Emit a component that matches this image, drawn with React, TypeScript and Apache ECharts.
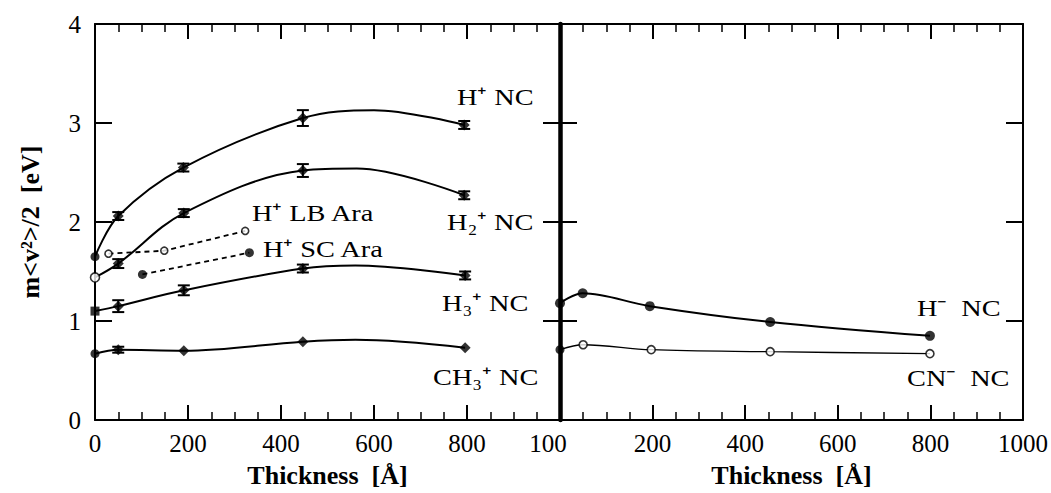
import React, { useEffect, useRef } from "react";
import * as echarts from "echarts";

// ---- data (Thickness [Å], m<v²>/2 [eV]) ----
const hpNcPoints = [[0, 1.65], [50, 2.06], [190, 2.55], [447, 3.05], [794, 2.98]];
const hpNcCurve = [[0, 1.65], [50, 2.06], [190, 2.55], [447, 3.05], [600, 3.13], [794, 2.98]];
const hpNcErr = [[50, 2.06, 0.04], [190, 2.55, 0.04], [447, 3.05, 0.08], [794, 2.98, 0.04]];

const h2NcPoints = [[0, 1.44], [50, 1.58], [191, 2.09], [447, 2.52], [794, 2.27]];
const h2NcCurve = [[0, 1.44], [50, 1.58], [191, 2.09], [447, 2.52], [563, 2.54], [794, 2.27]];
const h2NcErr = [[50, 1.58, 0.045], [191, 2.09, 0.04], [447, 2.52, 0.065], [794, 2.27, 0.04]];

const h3NcPoints = [[0, 1.1], [50, 1.15], [191, 1.31], [447, 1.53], [796, 1.46]];
const h3NcCurve = [[0, 1.1], [50, 1.15], [191, 1.31], [447, 1.53], [560, 1.56], [796, 1.46]];
const h3NcErr = [[50, 1.15, 0.06], [191, 1.31, 0.05], [447, 1.53, 0.04], [796, 1.46, 0.04]];

const ch3NcPoints = [[0, 0.67], [50, 0.71], [191, 0.7], [447, 0.79], [796, 0.73]];
const ch3NcCurve = [[0, 0.67], [50, 0.71], [191, 0.7], [447, 0.79], [560, 0.81], [796, 0.73]];
const ch3NcErr = [[50, 0.71, 0.03]];

const hpLbAra = [[29, 1.68], [149, 1.71], [323, 1.91]];
const hpScAra = [[102, 1.47], [332, 1.69]];

const hmNc = [[0, 1.18], [49, 1.28], [194, 1.15], [454, 0.99], [799, 0.85]];
const cnNc = [[0, 0.71], [50, 0.76], [197, 0.71], [454, 0.69], [799, 0.67]];

const xTicks = [0, 200, 400, 600, 800, 1000];
const yTicks = [0, 1, 2, 3, 4];

const labels = [
  { text: "H⁺ NC", x: 457, y: 97 },
  { text: "H₂⁺ NC", x: 447, y: 222 },
  { text: "H⁺ LB Ara", x: 252, y: 213 },
  { text: "H⁺ SC Ara", x: 263, y: 249 },
  { text: "H₃⁺ NC", x: 442, y: 303 },
  { text: "CH₃⁺ NC", x: 433, y: 377 },
  { text: "H⁻  NC", x: 917, y: 308 },
  { text: "CN⁻  NC", x: 907, y: 378 },
];

const FONT = '"Liberation Serif", "Times New Roman", serif';

function xAxisBase(gridIndex: number, position: string, showLabel: boolean, fmt?: (v: number) => string) {
  return {
    type: "value",
    gridIndex,
    position,
    min: xTicks[0],
    max: xTicks[xTicks.length - 1],
    interval: 200,
    axisLine: { show: true, onZero: false, lineStyle: { color: "#000", width: 2 } },
    axisTick: { show: true, inside: true, length: 15, lineStyle: { color: "#000", width: 2 } },
    minorTick: { show: true, splitNumber: 4, length: 8, lineStyle: { color: "#000", width: 1.5 } },
    splitLine: { show: false },
    minorSplitLine: { show: false },
    axisLabel: {
      show: showLabel,
      color: "#000",
      fontFamily: FONT,
      fontSize: 25,
      margin: 11,
      formatter: fmt,
      rich: { s: { fontFamily: FONT, fontSize: 25, color: "#000", padding: [0, 24, 0, 0] } },
    },
    name: showLabel ? "Thickness  [Å]" : "",
    nameLocation: "middle",
    nameGap: 42,
    nameTextStyle: { fontFamily: FONT, fontSize: 26, fontWeight: "bold", color: "#000" },
  };
}

function yAxisBase(gridIndex: number, position: string, showLabel: boolean, lineWidth: number) {
  return {
    type: "value",
    gridIndex,
    position,
    min: yTicks[0],
    max: yTicks[yTicks.length - 1],
    interval: 1,
    axisLine: { show: true, onZero: false, lineStyle: { color: "#000", width: lineWidth } },
    axisTick: { show: true, inside: true, length: 17, lineStyle: { color: "#000", width: 2 } },
    splitLine: { show: false },
    axisLabel: { show: showLabel, color: "#000", fontFamily: FONT, fontSize: 25, margin: 14 },
    name: showLabel ? "m<v²>/2  [eV]" : "",
    nameLocation: "middle",
    nameGap: 52,
    nameTextStyle: { fontFamily: FONT, fontSize: 26, fontWeight: "bold", color: "#000" },
  };
}

function curve(data: number[][], xi: number, yi: number, width = 2, dashed = false, smooth: number | boolean = 0.35) {
  return {
    type: "line",
    xAxisIndex: xi,
    yAxisIndex: yi,
    data,
    smooth,
    symbol: "none",
    lineStyle: { color: "#000", width, type: dashed ? [5, 4] : "solid" },
    z: 2,
    silent: true,
  };
}

function markers(data: number[][], xi: number, yi: number, symbol: string, size: number, open: boolean, firstSymbol?: string, firstOpen?: boolean) {
  return {
    type: "scatter",
    xAxisIndex: xi,
    yAxisIndex: yi,
    symbolSize: size,
    data: data.map((d, i) => {
      const isFirst = i === 0 && firstSymbol !== undefined;
      const o = isFirst ? !!firstOpen : open;
      return {
        value: d,
        symbol: isFirst ? firstSymbol : symbol,
        symbolSize: isFirst ? 9 : size,
        itemStyle: o
          ? { color: "#fff", borderColor: "#000", borderWidth: 1.6 }
          : { color: "#000", borderColor: "#000", borderWidth: 0 },
      };
    }),
    z: 4,
    silent: true,
  };
}

function errBars(data: number[][], xi: number, yi: number) {
  return {
    type: "custom",
    xAxisIndex: xi,
    yAxisIndex: yi,
    data,
    z: 3,
    silent: true,
    renderItem: (params: any, api: any) => {
      const x = api.value(0);
      const y = api.value(1);
      const e = api.value(2);
      const top = api.coord([x, y + e]);
      const bot = api.coord([x, y - e]);
      const w = 6;
      const st = { stroke: "#000", lineWidth: 2 };
      return {
        type: "group",
        children: [
          { type: "line", shape: { x1: top[0], y1: top[1], x2: bot[0], y2: bot[1] }, style: st },
          { type: "line", shape: { x1: top[0] - w, y1: top[1], x2: top[0] + w, y2: top[1] }, style: st },
          { type: "line", shape: { x1: bot[0] - w, y1: bot[1], x2: bot[0] + w, y2: bot[1] }, style: st },
        ],
      };
    },
  };
}

export default function App() {
  const ref = useRef<HTMLDivElement>(null);
  useEffect(() => {
    if (!ref.current) return;
    const chart = echarts.init(ref.current, null, { renderer: "svg" });
    const leftFmt = (v: number) => (v === 1000 ? "{s|100}" : String(v));
    const rightFmt = (v: number) => (v === 0 ? "" : String(v));
    chart.setOption({
      animation: false,
      backgroundColor: "#fff",
      grid: [
        { left: 95, right: 1051 - 560, top: 24, bottom: 493 - 420 },
        { left: 560, right: 1051 - 1023, top: 24, bottom: 493 - 420 },
      ],
      xAxis: [
        xAxisBase(0, "bottom", true, leftFmt),
        xAxisBase(0, "top", false),
        xAxisBase(1, "bottom", true, rightFmt),
        xAxisBase(1, "top", false),
      ],
      yAxis: [
        yAxisBase(0, "left", true, 2),
        yAxisBase(0, "right", false, 2),
        yAxisBase(1, "left", false, 4.5),
        yAxisBase(1, "right", false, 2),
      ],
      series: [
        curve(hpNcCurve, 0, 0),
        curve(h2NcCurve, 0, 0),
        curve(h3NcCurve, 0, 0),
        curve(ch3NcCurve, 0, 0),
        curve(hpLbAra, 0, 0, 1.8, true, false),
        curve(hpScAra, 0, 0, 1.8, true, false),
        errBars(hpNcErr, 0, 0),
        errBars(h2NcErr, 0, 0),
        errBars(h3NcErr, 0, 0),
        errBars(ch3NcErr, 0, 0),
        markers(hpNcPoints, 0, 0, "diamond", 11, false, "circle", false),
        markers(h2NcPoints, 0, 0, "diamond", 11, false, "circle", true),
        markers(h3NcPoints, 0, 0, "diamond", 11, false, "rect", false),
        markers(ch3NcPoints, 0, 0, "diamond", 11, false, "circle", false),
        markers(hpLbAra, 0, 0, "circle", 7, true),
        markers(hpScAra, 0, 0, "circle", 9, false),
        curve(hmNc, 2, 2, 2, false, 0.35),
        curve(cnNc, 2, 2, 1.3, false, 0.35),
        markers(hmNc, 2, 2, "circle", 10, false),
        markers(cnNc, 2, 2, "circle", 8, true, "circle", false),
      ],
      graphic: labels.map((l) => ({
        type: "text",
        x: l.x,
        y: l.y,
        scaleX: 1.18,
        z: 10,
        style: {
          text: l.text,
          font: `24px ${FONT}`,
          fill: "#000",
          textAlign: "left",
          align: "left",
          textVerticalAlign: "middle",
          verticalAlign: "middle",
        },
      })),
    });
    return () => chart.dispose();
  }, []);
  return (
    <div
      ref={ref}
      style={{ position: "fixed", left: 0, top: 0, width: 1051, height: 493, background: "#fff" }}
    />
  );
}
